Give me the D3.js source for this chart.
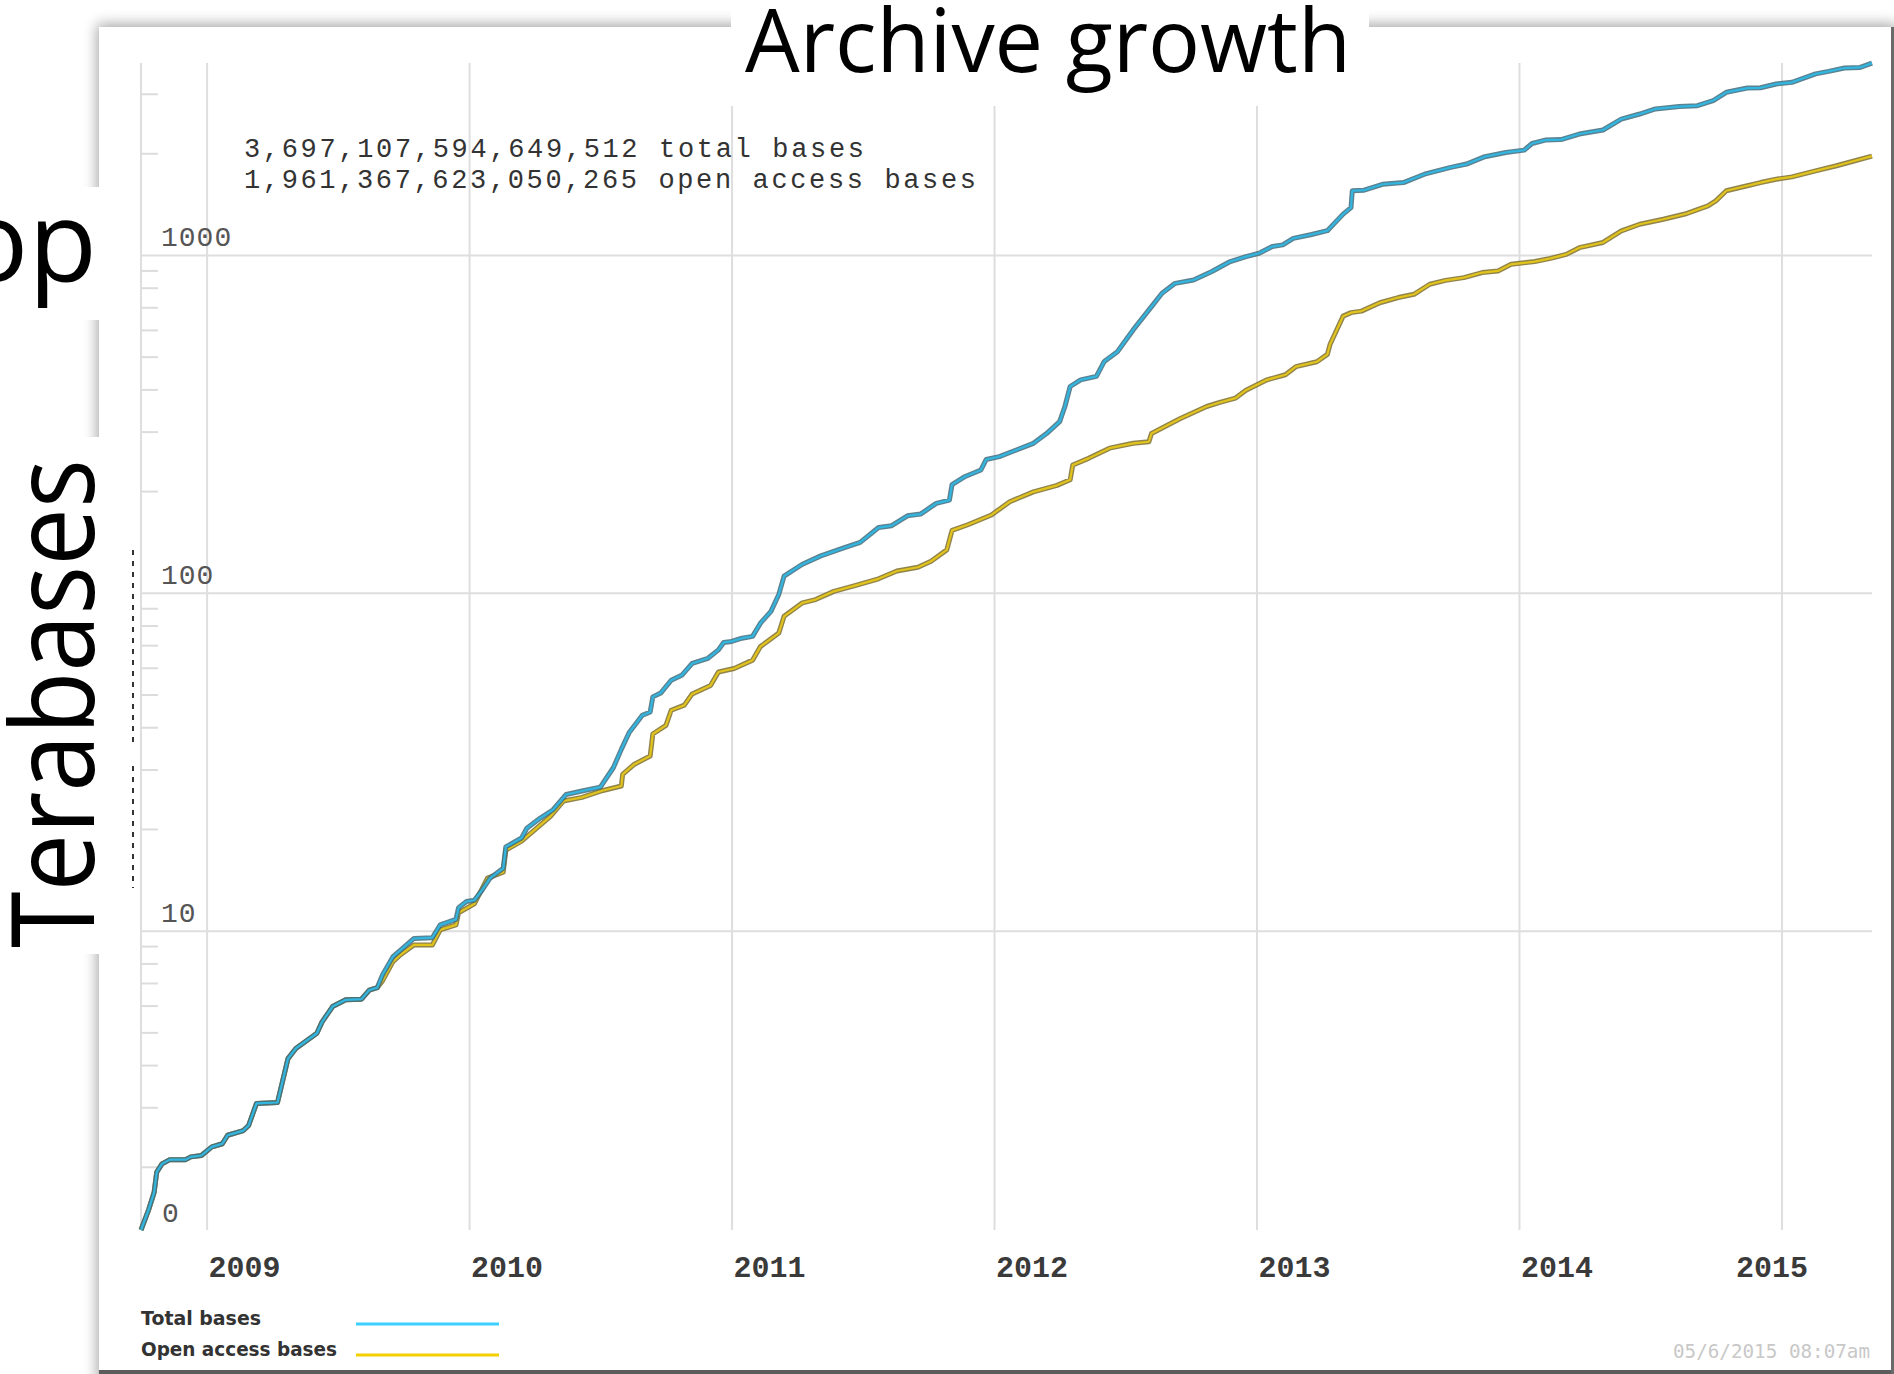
<!DOCTYPE html>
<html>
<head>
<meta charset="utf-8">
<script src="https://cdn.jsdelivr.net/npm/d3@7.9.0/dist/d3.min.js"></script>
<style>
  body { margin: 0; background: #fff; }
  svg { display: block; }
</style>
</head>
<body>
<svg id="chart" width="1894" height="1374"></svg>
<script>
// values: decimal year and terabases
const totalYears = [2008.75, 2008.78, 2008.80, 2008.81, 2008.83, 2008.86, 2008.92, 2008.94, 2008.98, 2009.02,
  2009.06, 2009.08, 2009.14, 2009.16, 2009.19, 2009.27, 2009.31, 2009.34, 2009.42, 2009.44,
  2009.48, 2009.53, 2009.59, 2009.62, 2009.65, 2009.67, 2009.71, 2009.74, 2009.79, 2009.86,
  2009.89, 2009.95, 2009.96, 2009.99, 2010.02, 2010.05, 2010.08, 2010.13, 2010.14, 2010.20,
  2010.22, 2010.27, 2010.32, 2010.37, 2010.43, 2010.50, 2010.55, 2010.58, 2010.61, 2010.66,
  2010.69, 2010.70, 2010.73, 2010.77, 2010.81, 2010.85, 2010.91, 2010.95, 2010.97, 2011.00,
  2011.04, 2011.08, 2011.11, 2011.15, 2011.18, 2011.20, 2011.27, 2011.34, 2011.43, 2011.49,
  2011.56, 2011.61, 2011.67, 2011.72, 2011.78, 2011.83, 2011.84, 2011.89, 2011.95, 2011.97,
  2012.02, 2012.07, 2012.15, 2012.20, 2012.25, 2012.27, 2012.29, 2012.33, 2012.39, 2012.42,
  2012.47, 2012.53, 2012.60, 2012.64, 2012.69, 2012.76, 2012.83, 2012.90, 2012.96, 2013.01,
  2013.06, 2013.10, 2013.14, 2013.21, 2013.27, 2013.33, 2013.36, 2013.365, 2013.41, 2013.48,
  2013.56, 2013.64, 2013.74, 2013.80, 2013.87, 2013.95, 2014.02, 2014.05, 2014.10, 2014.16,
  2014.23, 2014.32, 2014.39, 2014.46, 2014.52, 2014.61, 2014.68, 2014.74, 2014.79, 2014.87,
  2014.92, 2014.98, 2015.04, 2015.13, 2015.18, 2015.24, 2015.30, 2015.345];
const totalTB = [1.30, 1.50, 1.68, 1.93, 2.04, 2.10, 2.10, 2.14, 2.16, 2.29,
  2.34, 2.48, 2.56, 2.65, 3.08, 3.10, 4.18, 4.48, 4.97, 5.37,
  5.96, 6.24, 6.27, 6.67, 6.78, 7.39, 8.37, 8.77, 9.48, 9.53,
  10.4, 10.8, 11.7, 12.2, 12.3, 13.2, 14.3, 15.3, 17.7, 18.8,
  20.1, 21.5, 22.8, 25.3, 25.9, 26.6, 30.4, 34.4, 38.6, 43.4,
  44.4, 49.2, 50.5, 55.1, 57.0, 61.8, 64.0, 67.8, 71.3, 71.8,
  73.4, 74.3, 81.3, 88.1, 98.9, 112, 121.5, 128.6, 136, 141,
  156, 158, 169, 171, 184, 188, 209, 221, 231, 248,
  253, 262, 277, 296, 321, 356, 408, 427, 437, 484,
  517, 600, 703, 770, 824, 843, 893, 956, 989, 1012,
  1059, 1071, 1120, 1150, 1180, 1321, 1381, 1549, 1555, 1619,
  1638, 1734, 1816, 1858, 1954, 2011, 2043, 2138, 2188, 2195,
  2280, 2344, 2525, 2613, 2705, 2749, 2767, 2865, 3030, 3119,
  3125, 3207, 3244, 3435, 3494, 3575, 3590, 3697];

const openYears = [2008.75, 2008.78, 2008.80, 2008.81, 2008.83, 2008.86, 2008.92, 2008.94, 2008.98, 2009.02,
  2009.06, 2009.08, 2009.14, 2009.16, 2009.19, 2009.27, 2009.31, 2009.34, 2009.42, 2009.44,
  2009.48, 2009.53, 2009.59, 2009.62, 2009.65, 2009.67, 2009.71, 2009.74, 2009.79, 2009.86,
  2009.89, 2009.95, 2009.96, 2010.02, 2010.07, 2010.13, 2010.14, 2010.20, 2010.31, 2010.36,
  2010.43, 2010.51, 2010.58, 2010.585, 2010.63, 2010.69, 2010.70, 2010.75, 2010.77, 2010.82,
  2010.85, 2010.92, 2010.95, 2011.01, 2011.08, 2011.11, 2011.18, 2011.20, 2011.27, 2011.32,
  2011.39, 2011.47, 2011.56, 2011.63, 2011.71, 2011.76, 2011.82, 2011.84, 2011.90, 2011.99,
  2012.06, 2012.15, 2012.24, 2012.29, 2012.30, 2012.36, 2012.44, 2012.53, 2012.59, 2012.60,
  2012.71, 2012.81, 2012.86, 2012.92, 2012.96, 2013.04, 2013.11, 2013.15, 2013.23, 2013.27,
  2013.28, 2013.33, 2013.36, 2013.40, 2013.47, 2013.54, 2013.60, 2013.66, 2013.72, 2013.79,
  2013.86, 2013.92, 2013.97, 2014.06, 2014.12, 2014.18, 2014.23, 2014.32, 2014.39, 2014.46,
  2014.55, 2014.64, 2014.72, 2014.75, 2014.79, 2014.87, 2014.92, 2014.98, 2015.04, 2015.13,
  2015.21, 2015.28, 2015.345];
const openTB = [1.30, 1.50, 1.68, 1.93, 2.04, 2.10, 2.10, 2.14, 2.16, 2.29,
  2.34, 2.48, 2.56, 2.65, 3.08, 3.10, 4.18, 4.48, 4.97, 5.37,
  5.96, 6.24, 6.27, 6.67, 6.78, 7.10, 8.10, 8.50, 9.07, 9.07,
  10.05, 10.4, 11.3, 12.0, 14.3, 14.9, 17.3, 18.4, 21.8, 24.2,
  24.8, 26.0, 26.8, 29.0, 31.1, 32.9, 38.2, 40.5, 44.9, 46.5,
  50.2, 53.2, 58.3, 59.7, 63.2, 69.3, 76.0, 85.2, 93.4, 95.5,
  101, 105, 110, 116, 119, 124, 134, 153, 159, 170,
  186, 199, 208, 216, 239, 250, 268, 277, 280, 296,
  328, 356, 366, 377, 398, 427, 442, 467, 483, 508,
  543, 659, 675, 682, 722, 748, 765, 819, 841, 857,
  887, 897, 938, 956, 977, 1004, 1051, 1089, 1178, 1233,
  1276, 1327, 1397, 1446, 1549, 1603, 1638, 1676, 1703, 1774,
  1837, 1900, 1961];

const yearTicks = [2009, 2010, 2011, 2012, 2013, 2014, 2015];
const decadeTicks = [1000, 100, 10];
const bottomLabel = "0";
const totalLine = "3,697,107,594,649,512 total bases";
const openLine = "1,961,367,623,050,265 open access bases";
const seriesNames = ["Total bases", "Open access bases"];
const stamp = "05/6/2015 08:07am";

const svg = d3.select('#chart');

// drop shadow for the pasted chart panel
const defs = svg.append('defs');
const f = defs.append('filter').attr('id', 'sh')
  .attr('x', '-3%').attr('y', '-3%').attr('width', '106%').attr('height', '106%');
f.append('feGaussianBlur').attr('in', 'SourceAlpha').attr('stdDeviation', 7);
f.append('feOffset').attr('dx', -2).attr('dy', -3);
f.append('feComponentTransfer').append('feFuncA').attr('type', 'linear').attr('slope', 0.35);
const fm = f.append('feMerge');
fm.append('feMergeNode');
fm.append('feMergeNode').attr('in', 'SourceGraphic');

svg.append('rect').attr('x', 99).attr('y', 27).attr('width', 1800).attr('height', 1360)
  .attr('fill', '#fff').attr('filter', 'url(#sh)');
svg.append('rect').attr('x', 99).attr('y', 1370).attr('width', 1795).attr('height', 4).attr('fill', '#5c5c5c');
svg.append('rect').attr('x', 1891).attr('y', 27).attr('width', 3).attr('height', 1347).attr('fill', '#6a6a6a');

// scales
const x = d3.scaleLinear().domain([2008.75, 2015.345]).range([141, 1872]);
const y = d3.scaleLog().domain([1.3, 3700]).range([1230, 63]);
const [xL, xR] = x.range();
const [yB, yT] = y.range();

const grid = svg.append('g');
// vertical year gridlines
grid.append('g').attr('transform', `translate(0,${yB})`)
  .call(d3.axisBottom(x).tickValues(yearTicks).tickSize(-(yB - yT)).tickFormat(''))
  .call(g => g.select('.domain').remove())
  .call(g => g.selectAll('line').attr('stroke', '#dedede').attr('stroke-width', 2));
// horizontal decade gridlines
grid.append('g').attr('transform', `translate(${xL},0)`)
  .call(d3.axisLeft(y).tickValues(decadeTicks).tickSize(-(xR - xL)).tickFormat(''))
  .call(g => g.select('.domain').remove())
  .call(g => g.selectAll('line').attr('stroke', '#dedede').attr('stroke-width', 2));
// minor ticks 2..9 of every decade
const minor = [];
[1, 10, 100, 1000].forEach(d => d3.range(2, 10).forEach(m => {
  const v = d * m;
  if (v > y.domain()[0] && v < y.domain()[1]) minor.push(v);
}));
grid.append('g').attr('transform', `translate(${xL},0)`)
  .call(d3.axisLeft(y).tickValues(minor).tickSize(-17).tickFormat(''))
  .call(g => g.select('.domain').remove())
  .call(g => g.selectAll('line').attr('stroke', '#dcdcdc').attr('stroke-width', 2));
// y axis line
grid.append('line').attr('x1', xL).attr('x2', xL).attr('y1', yT).attr('y2', yB)
  .attr('stroke', '#dedede').attr('stroke-width', 2);

// y labels
const ylab = svg.append('g').attr('font-family', 'Liberation Mono, monospace')
  .attr('font-size', 28).attr('fill', '#555').attr('letter-spacing', 1);
ylab.selectAll('text').data(decadeTicks).join('text')
  .attr('x', xL + 20).attr('y', d => y(d) - 9).text(d => d);
ylab.append('text').attr('x', xL + 21).attr('y', yB - 8).text(bottomLabel);

// year labels, kept inside the plot
svg.append('g').attr('font-family', 'Liberation Mono, monospace').attr('font-weight', 'bold')
  .attr('font-size', 29).attr('fill', '#3a3a3a')
  .selectAll('text').data(yearTicks).join('text')
  .attr('x', d => Math.min(x(d) + 2, xR - 136)).attr('y', yB + 47)
  .attr('textLength', 72).attr('lengthAdjust', 'spacingAndGlyphs')
  .text(d => d);

// stray dashed mark left of the axis
svg.append('path').attr('d', 'M133,550V742M133,766V888')
  .attr('stroke', '#333').attr('stroke-width', 2).attr('stroke-dasharray', '5,6');

// series
const line = d3.line().x(d => x(d[0])).y(d => y(d[1]));
const series = [
  { pts: d3.zip(openYears, openTB), under: '#7d6f2c', over: '#e2c31c' },
  { pts: d3.zip(totalYears, totalTB), under: '#3e6c7c', over: '#31b6e2' }
];
series.forEach(s => {
  svg.append('path').attr('d', line(s.pts)).attr('fill', 'none')
    .attr('stroke', s.under).attr('stroke-width', 5).attr('stroke-opacity', 0.85)
    .attr('stroke-linejoin', 'round');
  svg.append('path').attr('d', line(s.pts)).attr('fill', 'none')
    .attr('stroke', s.over).attr('stroke-width', 2.2).attr('stroke-linejoin', 'round');
});

// base counts
const note = svg.append('g').attr('font-family', 'Liberation Mono, monospace')
  .attr('font-size', 27).attr('fill', '#333').attr('lengthAdjust', 'spacingAndGlyphs');
note.append('text').attr('x', 244).attr('y', 157).attr('textLength', 620).text(totalLine);
note.append('text').attr('x', 244).attr('y', 188).attr('textLength', 732).text(openLine);

// legend
const legColors = ['#3ccfff', '#f4d000'];
const leg = svg.append('g').attr('font-family', 'DejaVu Sans, sans-serif').attr('font-weight', 'bold')
  .attr('font-size', 19).attr('fill', '#333');
seriesNames.forEach((n, i) => {
  const yy = 1325 + i * 31;
  leg.append('text').attr('x', 141).attr('y', yy).attr('textLength', i ? 196 : 120)
    .attr('lengthAdjust', 'spacingAndGlyphs').text(n);
  leg.append('line').attr('x1', 356).attr('x2', 499).attr('y1', yy - 1).attr('y2', yy - 1)
    .attr('stroke', legColors[i]).attr('stroke-width', 3);
});
svg.append('text').attr('x', 1673).attr('y', 1358).attr('font-family', 'DejaVu Sans Mono, monospace')
  .attr('font-size', 20).attr('fill', '#c8c8c8').attr('textLength', 197)
  .attr('lengthAdjust', 'spacingAndGlyphs').text(stamp);

// slide overlays: white boxes with big text
svg.append('rect').attr('x', 731).attr('y', 0).attr('width', 638).attr('height', 106).attr('fill', '#fff');
svg.append('rect').attr('x', 0).attr('y', 187).attr('width', 99).attr('height', 133).attr('fill', '#fff');
svg.append('rect').attr('x', 0).attr('y', 437).attr('width', 99).attr('height', 517).attr('fill', '#fff');
svg.append('text').attr('x', 745).attr('y', 72).attr('font-family', 'Open Sans, sans-serif')
  .attr('font-size', 88).attr('fill', '#000').attr('textLength', 606)
  .attr('lengthAdjust', 'spacingAndGlyphs').text('Archive growth');
svg.append('text').attr('x', 97).attr('y', 281).attr('text-anchor', 'end')
  .attr('font-family', 'Open Sans, sans-serif').attr('font-size', 112).attr('fill', '#000').text('op');
svg.append('text').attr('transform', 'translate(94,948) rotate(-90)')
  .attr('font-family', 'Open Sans, sans-serif').attr('font-size', 116).attr('fill', '#000')
  .attr('textLength', 489).attr('lengthAdjust', 'spacingAndGlyphs').text('Terabases');
</script>
</body>
</html>
